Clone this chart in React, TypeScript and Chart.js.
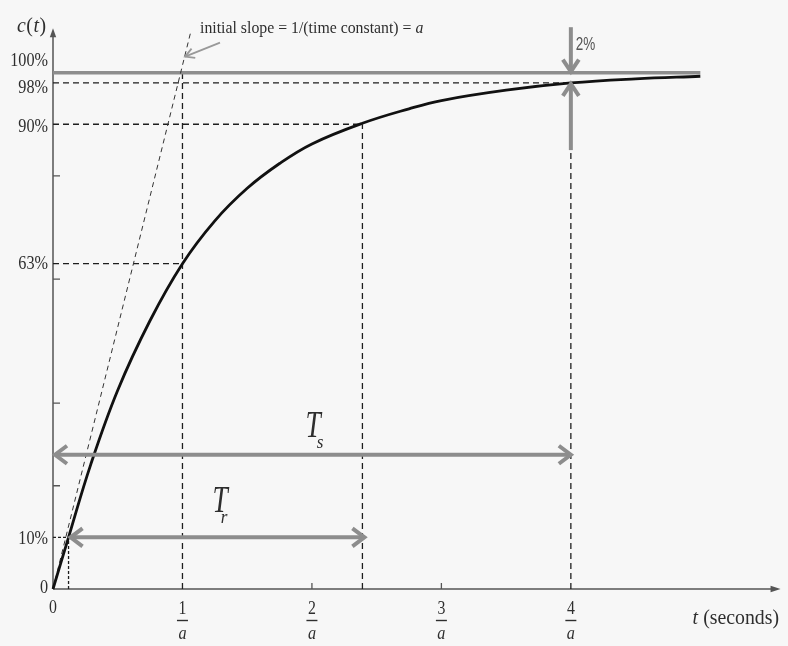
import { useEffect, useRef } from "react";
import { Chart, registerables } from "chart.js";

Chart.register(...registerables);

// Step response c(t) of a first-order system (t in units of 1/a, c in %)
const timeSamples = [0, 0.12, 0.29, 0.5, 0.75, 1.0, 1.25, 1.5, 1.75, 2.0, 2.39, 2.75, 3.0, 3.5, 4.0, 4.5, 5.0];
const responsePct = [0, 10, 24, 38.5, 52, 63, 71.3, 77.6, 82.4, 86.2, 90.2, 93, 94.6, 96.6, 98, 98.8, 99.3];

// Tangent at the origin: initial slope = a
const slopeT = [0, 1.065];
const slopeC = [0, 108];

// Characteristic instants: 10%, time constant (63%), 90%, 2% settling band (98%)
const markT = [0.12, 1, 2.39, 4];
const markC = [10, 63, 90, 98];
const markTop = [10, 100, 90, 98];

// Final value line
const finalValue = 100;
const finalEndT = 5.0;

// Axis labels and ticks
const yTickLabels = ["0", "10%", "63%", "90%", "98%", "100%"];
const yTickValues = [0, 10, 63, 90, 98, 100];
const yMinorTicks = [20, 36, 60, 80];
const xTickNumerators = ["1", "2", "3", "4"];
const xTickValues = [1, 2, 3, 4];
const xMinorTicks = [2, 3];

// Rise time and settling time spans
const riseSpan = [0.12, 2.39];
const riseLevel = 10;
const settleSpan = [0, 4];
const settleLevel = 26;

const T_MAX = 5.6;
const C_MAX = 110;

const GREY = "#8d8d8d";
const INK = "#2e2e2e";
const SERIF = "'Liberation Serif'";

const pts = (xs: number[], ys: number[]) => xs.map((x, i) => ({ x, y: ys[i] }));

function label(
  ctx: CanvasRenderingContext2D,
  s: string,
  x: number,
  y: number,
  font: string,
  align: CanvasTextAlign = "center",
  sx = 1,
  color = INK
) {
  ctx.save();
  ctx.font = font;
  ctx.fillStyle = color;
  ctx.textAlign = align;
  ctx.textBaseline = "middle";
  ctx.translate(x, y);
  ctx.scale(sx, 1);
  ctx.fillText(s, 0, 0);
  ctx.restore();
}

function textWidth(ctx: CanvasRenderingContext2D, s: string, font: string) {
  ctx.save();
  ctx.font = font;
  const w = ctx.measureText(s).width;
  ctx.restore();
  return w;
}

function chevron(ctx: CanvasRenderingContext2D, tx: number, ty: number, ang: number, len: number, half: number) {
  const bx = tx - Math.cos(ang) * len;
  const by = ty - Math.sin(ang) * len;
  const nx = -Math.sin(ang) * half;
  const ny = Math.cos(ang) * half;
  ctx.beginPath();
  ctx.moveTo(bx + nx, by + ny);
  ctx.lineTo(tx, ty);
  ctx.lineTo(bx - nx, by - ny);
  ctx.stroke();
}

function arrow(
  ctx: CanvasRenderingContext2D,
  x1: number,
  y1: number,
  x2: number,
  y2: number,
  both: boolean,
  width: number,
  len: number,
  half: number,
  color = GREY
) {
  ctx.save();
  ctx.strokeStyle = color;
  ctx.lineWidth = width;
  ctx.lineCap = "butt";
  ctx.lineJoin = "miter";
  ctx.beginPath();
  ctx.moveTo(x1, y1);
  ctx.lineTo(x2, y2);
  ctx.stroke();
  const ang = Math.atan2(y2 - y1, x2 - x1);
  chevron(ctx, x2, y2, ang, len, half);
  if (both) chevron(ctx, x1, y1, ang + Math.PI, len, half);
  ctx.restore();
}

function filledHead(ctx: CanvasRenderingContext2D, tx: number, ty: number, ang: number, len: number, half: number) {
  const bx = tx - Math.cos(ang) * len;
  const by = ty - Math.sin(ang) * len;
  const nx = -Math.sin(ang) * half;
  const ny = Math.cos(ang) * half;
  ctx.beginPath();
  ctx.moveTo(tx, ty);
  ctx.lineTo(bx + nx, by + ny);
  ctx.lineTo(bx - nx, by - ny);
  ctx.closePath();
  ctx.fill();
}

// Offsets keep the stacked 98% / 100% labels apart
const yLabelNudge = [-1, 2, 1, 3, 5, -11];

const decorations = {
  id: "decorations",
  beforeDraw(chart: any) {
    const ctx = chart.ctx as CanvasRenderingContext2D;
    ctx.save();
    ctx.fillStyle = "#f7f7f7";
    ctx.fillRect(0, 0, chart.width, chart.height);
    ctx.restore();
  },
  beforeDatasetsDraw(chart: any) {
    const ctx = chart.ctx as CanvasRenderingContext2D;
    const xs = chart.scales.x;
    const ys = chart.scales.y;
    const x0 = xs.getPixelForValue(0);
    const y0 = ys.getPixelForValue(0);
    const yTop = ys.getPixelForValue(108.6);
    const xEnd = xs.getPixelForValue(5.62);

    ctx.save();
    ctx.strokeStyle = "#555";
    ctx.fillStyle = "#555";
    ctx.lineWidth = 1.5;
    ctx.beginPath();
    ctx.moveTo(x0, y0);
    ctx.lineTo(x0, yTop + 6);
    ctx.moveTo(x0, y0);
    ctx.lineTo(xEnd - 6, y0);
    ctx.stroke();
    filledHead(ctx, x0, yTop, -Math.PI / 2, 9, 3.2);
    filledHead(ctx, xEnd, y0, 0, 10, 3.2);

    ctx.lineWidth = 1.3;
    ctx.beginPath();
    for (const v of yMinorTicks) {
      const y = ys.getPixelForValue(v);
      ctx.moveTo(x0, y);
      ctx.lineTo(x0 + 7, y);
    }
    for (const v of xMinorTicks) {
      const x = xs.getPixelForValue(v);
      ctx.moveTo(x, y0);
      ctx.lineTo(x, y0 - 6);
    }
    ctx.stroke();
    ctx.restore();

    // y tick labels
    yTickLabels.forEach((s, i) => {
      const y = ys.getPixelForValue(yTickValues[i]) + yLabelNudge[i];
      label(ctx, s, x0 - 5, y, `18px ${SERIF}`, "right", 0.9);
    });

    // x tick labels as fractions n/a
    label(ctx, "0", x0, 608, `18px ${SERIF}`, "center", 0.88);
    xTickNumerators.forEach((s, i) => {
      const x = xs.getPixelForValue(xTickValues[i]);
      label(ctx, s, x, 609, `18px ${SERIF}`, "center", 0.88);
      ctx.save();
      ctx.strokeStyle = INK;
      ctx.lineWidth = 1.4;
      ctx.beginPath();
      ctx.moveTo(x - 5.5, 620.5);
      ctx.lineTo(x + 5.5, 620.5);
      ctx.stroke();
      ctx.restore();
      label(ctx, "a", x, 634, `italic 18px ${SERIF}`, "center", 0.9);
    });

    // axis titles
    const secFont = `22px ${SERIF}`;
    const secW = textWidth(ctx, "(seconds)", secFont) * 0.9;
    label(ctx, "(seconds)", 779, 618, secFont, "right", 0.9);
    label(ctx, "t", 779 - secW - 5, 618, `italic 22px ${SERIF}`, "right", 0.9);

    const parts: [string, string][] = [
      ["c", `italic 22px ${SERIF}`],
      ["(", `22px ${SERIF}`],
      ["t", `italic 22px ${SERIF}`],
      [")", `22px ${SERIF}`],
    ];
    let cx = 17;
    for (const [s, f] of parts) {
      const w = textWidth(ctx, s, f) * 0.9;
      label(ctx, s, cx, 26, f, "left", 0.9);
      cx += w + 0.5;
    }
  },
  afterDatasetsDraw(chart: any) {
    const ctx = chart.ctx as CanvasRenderingContext2D;
    const xs = chart.scales.x;
    const ys = chart.scales.y;
    const X = (v: number) => xs.getPixelForValue(v);
    const Y = (v: number) => ys.getPixelForValue(v);

    // settling time and rise time spans
    arrow(ctx, X(settleSpan[0]) + 2, Y(settleLevel), X(settleSpan[1]), Y(settleLevel), true, 4, 12, 9);
    arrow(ctx, X(riseSpan[0]) + 2, Y(riseLevel), X(riseSpan[1]) + 2, Y(riseLevel), true, 4, 12, 9);

    // 2% band arrows at t = 4/a
    arrow(ctx, X(4), Y(108.8), X(4), Y(finalValue) - 1, false, 4, 12, 8);
    arrow(ctx, X(4), Y(85), X(4), Y(98) + 1, false, 4, 12, 8);
    label(ctx, "2%", X(4) + 5, 45, "18px 'Liberation Sans'", "left", 0.75, "#555");

    // pointer to the initial-slope tangent
    arrow(ctx, X(1.29), Y(105.8), X(1.02), Y(103.1), false, 1.8, 9, 5, "#999");

    const capFont = `17px ${SERIF}`;
    const main = "initial slope = 1/(time constant) = ";
    const mw = textWidth(ctx, main, capFont) * 0.93;
    label(ctx, main, 200, 29, capFont, "left", 0.93);
    label(ctx, "a", 200 + mw, 29, `italic 17px ${SERIF}`, "left", 0.93);

    // span names
    label(ctx, "T", 313, 427, `italic 38px ${SERIF}`, "center", 0.72);
    label(ctx, "s", 320, 443, `italic 19px ${SERIF}`, "center", 0.9);
    label(ctx, "T", 220, 502, `italic 38px ${SERIF}`, "center", 0.72);
    label(ctx, "r", 224, 518, `italic 19px ${SERIF}`, "center", 0.9);
  },
};

function buildConfig(): any {
  const guides: any[] = [];
  markT.forEach((t, i) => {
    const dash = i === 0 ? [3, 2] : [6, 4];
    guides.push({
      data: [{ x: 0, y: markC[i] }, { x: t, y: markC[i] }],
      borderColor: "#1e1e1e",
      borderWidth: 1.3,
      borderDash: dash,
    });
    guides.push({
      data: [{ x: t, y: 0 }, { x: t, y: markTop[i] }],
      borderColor: "#1e1e1e",
      borderWidth: 1.3,
      borderDash: dash,
    });
  });

  return {
    type: "scatter",
    data: {
      datasets: [
        {
          data: pts(timeSamples, responsePct),
          borderColor: "#111",
          borderWidth: 2.8,
          tension: 0.4,
        },
        {
          data: pts(slopeT, slopeC),
          borderColor: "#333",
          borderWidth: 1,
          borderDash: [5, 4],
        },
        {
          data: [{ x: 0, y: finalValue }, { x: finalEndT, y: finalValue }],
          borderColor: GREY,
          borderWidth: 3.5,
        },
        ...guides,
      ].map((d) => ({ showLine: true, pointRadius: 0, pointHoverRadius: 0, fill: false, clip: false, ...d })),
    },
    options: {
      animation: false,
      responsive: false,
      devicePixelRatio: 1,
      events: [],
      layout: { padding: { left: 53, right: 10, top: 21, bottom: 57 } },
      plugins: { legend: { display: false }, tooltip: { enabled: false }, title: { display: false } },
      scales: {
        x: { type: "linear", min: 0, max: T_MAX, display: false },
        y: { type: "linear", min: 0, max: C_MAX, display: false },
      },
    },
    plugins: [decorations],
  };
}

export default function App() {
  const ref = useRef<HTMLCanvasElement>(null);
  useEffect(() => {
    const chart = new Chart(ref.current as HTMLCanvasElement, buildConfig());
    return () => chart.destroy();
  }, []);
  return (
    <div style={{ position: "fixed", left: 0, top: 0, width: 788, height: 646 }}>
      <canvas ref={ref} width={788} height={646} style={{ display: "block" }} />
    </div>
  );
}
